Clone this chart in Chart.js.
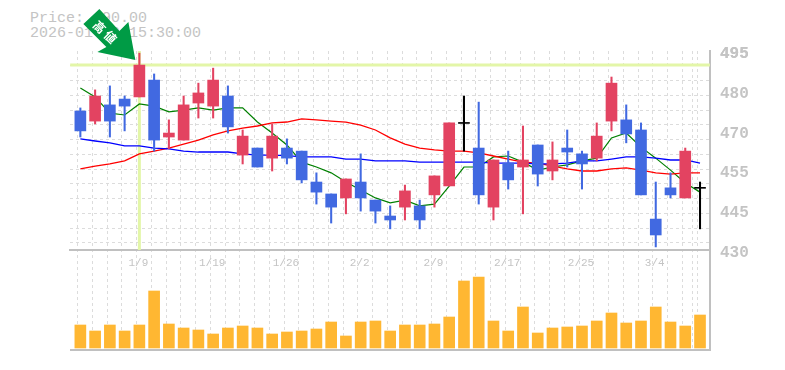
<!DOCTYPE html>
<html><head><meta charset="utf-8">
<script src="https://cdn.jsdelivr.net/npm/chart.js@4"></script>
<style>
html,body{margin:0;padding:0;background:#fff;width:785px;height:370px;overflow:hidden}
#cap{position:absolute;left:30px;top:11px;font:15px/15px "Liberation Mono",monospace;color:#c4c4c4;white-space:pre}
canvas{position:absolute;left:0;top:0}
</style></head><body>
<div id="cap"></div>
<canvas id="c" width="785" height="370"></canvas>
<script>
const priceLabel = 'Price: 490.00';
const timeLabel = '2026-01-09 15:30:00';
const arrowLabel = ['高','値'];
const opens  = [475.4,472.1,477.4,479.3,480.0,485.5,466.9,465.9,478.0,477.0,480.3,461.0,463.3,460.0,463.3,462.3,452.2,448.3,447.0,452.2,446.3,441.1,444.0,444.4,448.0,450.9,471.5,463.3,444.0,458.4,457.1,464.3,455.8,463.3,461.4,460.0,472.1,472.5,469.2,440.1,450.3,447.0,450.3];
const closes = [468.9,480.3,472.1,477.0,490.4,465.9,468.2,477.4,481.3,485.5,470.2,467.2,457.1,467.2,460.0,452.9,448.9,444.0,453.2,447.0,442.7,439.8,449.3,439.8,454.2,471.5,471.5,448.0,459.4,452.9,459.4,454.8,459.4,462.0,458.1,467.2,484.5,467.9,448.0,434.9,448.0,462.3,450.3];
const highs  = [476.4,482.3,483.6,480.3,494.3,487.5,472.5,480.3,484.5,489.4,483.6,469.2,463.3,471.2,466.3,462.3,455.2,448.3,453.2,461.4,446.3,444.4,451.2,446.3,454.2,471.5,480.3,478.3,459.4,462.3,470.5,464.3,465.3,469.2,462.3,471.5,486.5,477.4,471.5,452.2,455.2,463.3,452.2];
const lows   = [466.9,471.2,466.9,468.9,480.0,462.3,463.0,465.9,473.1,473.1,468.2,458.1,457.1,455.8,458.1,451.9,445.0,438.8,441.8,442.7,438.8,436.9,439.8,436.9,444.0,450.9,462.3,445.0,439.8,449.9,441.8,450.9,452.9,457.1,449.9,459.1,468.9,465.0,448.0,431.0,447.0,447.0,436.9];
const volumes = [23,17,23,17,23,57,24,20,18,14,20,22,20,14,16,17,19,26,12,26,27,17,23,23,24,31,67,71,27,17,41,15,20,21,22,27,35,25,27,41,26,22,33];
const maShort = [482.9,480.0,474.7,474.1,477.7,477.0,475.1,475.7,476.4,475.7,476.4,476.4,471.8,468.2,464.3,458.7,457.1,455.2,452.2,449.6,447.0,445.4,446.3,444.4,445.0,450.9,457.1,457.1,460.4,460.7,458.7,456.1,457.1,457.8,459.1,460.0,466.6,468.2,463.6,460.0,456.1,451.9,448.9];
const maMid   = [456.5,457.4,458.1,459.1,461.4,462.3,463.3,464.6,465.9,467.6,468.9,469.8,470.5,471.5,471.8,472.8,472.5,472.1,471.8,470.8,469.2,466.6,464.6,463.3,462.7,462.3,462.3,461.7,460.7,459.7,458.7,458.4,457.4,456.5,455.8,455.8,456.5,456.8,456.1,455.2,454.8,455.2,455.2];
const maLong  = [466.3,465.6,465.0,464.0,464.0,463.3,463.0,462.3,462.0,462.0,462.0,461.4,461.0,461.0,460.8,460.4,460.4,460.4,459.7,459.7,459.1,459.1,459.1,458.7,458.7,458.7,458.7,458.7,458.4,458.4,458.4,458.1,458.1,458.4,459.1,459.1,459.7,460.4,460.4,460.0,459.4,459.4,458.4];
const dateIndex  = [4,9,14,19,24,29,34,39];
const dateLabels = ['1/9','1/19','1/26','2/2','2/9','2/17','2/25','3/4'];
const priceTicks  = [495,482,469,456,443,430];
const priceLabels = ['495','480','470','455','445','430'];
const priceGridStep = 4.82;
const xGridStep = 1;
const priceMax = 495, priceFloor = 430, axisMin = 397.33;
const volMin = -2, volMax = 297;
const xMin = -0.285, xMax = 42.26;
const xGridStart = -0.69, xGridEnd = 42.67;
const markIndex = 4;

document.getElementById('cap').textContent = priceLabel + '\n' + timeLabel;

const RED='#e34361', BLUE='#4169e1', BLACK='#000000', GRID='#dcdcdc', AXIS='#c0c0c0', HILITE='#e3f6a8', TXT='#c4c4c4';
const idx = opens.map((_,i)=>i);
const col = idx.map(i => opens[i]===closes[i] ? BLACK : (closes[i]>opens[i] ? RED : BLUE));
const series = a => a.map((v,i)=>({x:i,y:v}));

const yGrid = [];
for (let v=priceMax; v>priceFloor+1; v-=priceGridStep) yGrid.push(v);
const xGrid = [];
for (let v=xGridStart; v<=xGridEnd+0.01; v+=xGridStep) xGrid.push(v);

const arrowPlugin = {
  id:'arrow',
  afterDatasetsDraw(chart){
    const c=chart.ctx, px=chart.scales.x.getPixelForValue(markIndex), py=chart.scales.y.getPixelForValue(closes[markIndex]);
    c.save();
    c.translate(px,py);
    c.fillStyle='#009b45';
    c.beginPath();
    [[-4,-5],[-42,-13],[-33,-18],[-56,-41],[-40,-56],[-20,-34],[-11,-43]].forEach((p,i)=> i?c.lineTo(p[0],p[1]):c.moveTo(p[0],p[1]));
    c.closePath(); c.fill();
    c.fillStyle='#fff';
    c.font='bold 12px "Noto Sans CJK JP"';
    c.textAlign='center'; c.textBaseline='middle';
    [[-40,-38],[-29,-28]].forEach((p,i)=>{
      c.save(); c.translate(p[0],p[1]); c.rotate(Math.PI/4); c.fillText(arrowLabel[i],0,0); c.restore();
    });
    c.restore();
  }
};

new Chart(document.getElementById('c'),{
  data:{datasets:[
    {type:'bar',data:idx.map(i=>({x:i,y:[Math.min(opens[i],closes[i])-(opens[i]===closes[i]?0.16:0),Math.max(opens[i],closes[i])+(opens[i]===closes[i]?0.16:0)]})),backgroundColor:col,barThickness:11,grouped:false,order:1,yAxisID:'y'},
    {type:'bar',data:idx.map(i=>({x:i,y:[lows[i],highs[i]]})),backgroundColor:col,barThickness:1.4,grouped:false,order:2,yAxisID:'y'},
    {type:'bar',data:series(volumes),backgroundColor:'#ffb732',barThickness:11,grouped:false,order:3,yAxisID:'yVol'},
    {type:'line',data:series(maShort),borderColor:'#008000',borderWidth:1.2,pointRadius:0,tension:0,order:6,yAxisID:'y'},
    {type:'line',data:series(maMid),borderColor:'#ff0000',borderWidth:1.3,pointRadius:0,tension:0,order:5,yAxisID:'y'},
    {type:'line',data:series(maLong),borderColor:'#0000ff',borderWidth:1.3,pointRadius:0,tension:0,order:4,yAxisID:'y'},
    {type:'line',data:[{x:xGridStart,y:closes[markIndex]},{x:xGridEnd,y:closes[markIndex]}],borderColor:HILITE,borderWidth:3,pointRadius:0,order:9,yAxisID:'y'},
    {type:'line',data:[{x:markIndex,y:priceFloor},{x:markIndex,y:priceMax}],borderColor:HILITE,borderWidth:3,pointRadius:0,order:9,yAxisID:'y'}
  ]},
  options:{
    responsive:false,animation:false,
    layout:{autoPadding:false,padding:{left:70,top:51,bottom:20,right:0}},
    plugins:{legend:{display:false},tooltip:{enabled:false},title:{display:false}},
    scales:{
      x:{type:'linear',min:xMin,max:xMax,position:{y:priceFloor},
        afterBuildTicks(s){s.ticks=xGrid.map(v=>({value:v})).concat(dateIndex.map(v=>({value:v})));},
        ticks:{autoSkip:false,maxRotation:0,minRotation:0,padding:7,labelOffset:-1,color:TXT,font:{family:'"Liberation Mono"',size:11},
          callback(v){const k=dateIndex.indexOf(v);return k>=0?dateLabels[k]:'';}},
        grid:{color(ctx){return dateIndex.includes(ctx.tick&&ctx.tick.value)?'rgba(0,0,0,0)':GRID;},lineWidth:1,drawTicks:false},
        border:{display:true,color:AXIS,width:2,dash:[3,3]}
      },
      y:{type:'linear',position:'right',min:axisMin,max:priceMax,
        afterFit(s){s.width=75;},
        afterBuildTicks(s){s.ticks=yGrid.map(v=>({value:v})).concat(priceTicks.map(v=>({value:v})));},
        ticks:{autoSkip:false,padding:10,labelOffset:3,color:TXT,font:{family:'"Liberation Mono"',size:16,weight:'bold'},
          callback(v){const k=priceTicks.indexOf(v);return k>=0?priceLabels[k]:'';}},
        grid:{color(ctx){return priceTicks.includes(ctx.tick&&ctx.tick.value)?'rgba(0,0,0,0)':GRID;},lineWidth:1,drawTicks:false},
        border:{display:true,color:AXIS,width:2,dash:[3,3]}
      },
      yVol:{type:'linear',position:'left',min:volMin,max:volMax,
        afterFit(s){s.width=0;},
        afterBuildTicks(s){s.ticks=[{value:volMin}];},
        ticks:{display:false},
        grid:{color:AXIS,lineWidth:2,drawTicks:false},
        border:{display:false}
      }
    }
  },
  plugins:[arrowPlugin]
});
</script>
</body></html>
